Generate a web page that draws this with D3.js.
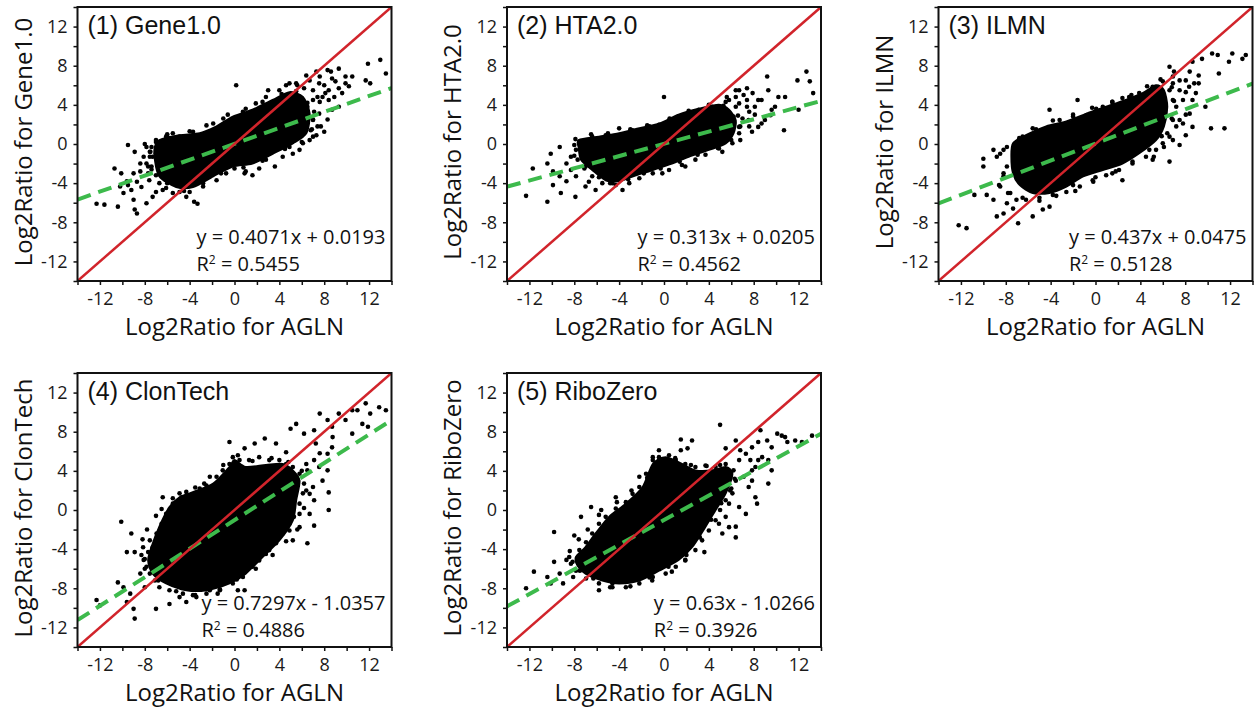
<!DOCTYPE html>
<html><head><meta charset="utf-8">
<script src="https://cdn.jsdelivr.net/npm/d3@7"></script>
<style>body{margin:0;background:#fff}</style>
</head><body><svg id="c" width="1258" height="708"></svg>
<script>
const panelTitles = ["(1) Gene1.0", "(2) HTA2.0", "(3) ILMN", "(4) ClonTech", "(5) RiboZero"];
const yTitles = ["Log2Ratio for Gene1.0", "Log2Ratio for HTA2.0", "Log2Ratio for ILMN", "Log2Ratio for ClonTech", "Log2Ratio for RiboZero"];
const xTitle = "Log2Ratio for AGLN";
const labelTicks = [-12, -8, -4, 0, 4, 8, 12];
const allTicks = [-14, -12, -10, -8, -6, -4, -2, 0, 2, 4, 6, 8, 10, 12, 14];
const axisDomain = [-14, 14];
const equations = ["y = 0.4071x + 0.0193", "y = 0.313x + 0.0205", "y = 0.437x + 0.0475", "y = 0.7297x - 1.0357", "y = 0.63x - 1.0266"];
const r2Values = ["0.5455", "0.4562", "0.5128", "0.4886", "0.3926"];
const identityLine = [[-14, -14], [14, 14]];

const fit1 = [[-14, -5.68], [14, 5.72]];
const fit2 = [[-14, -4.36], [14, 4.40]];
const fit3 = [[-14, -6.07], [14, 6.17]];
const fit4 = [[-14, -11.25], [14, 9.18]];
const fit5 = [[-14, -9.85], [14, 7.79]];

const core1 = [[-7.1,-0.3],[-6.7,0.4],[-4.9,0.9],[-3.1,1.1],[-1.6,1.8],[-0.15,2.8],[1.6,3.5],[3.4,4.5],[4.9,5.3],[6.1,4.8],[6.7,3.1],[6.4,1.1],[5.2,0.07],[3.4,-1.0],[1.6,-2.0],[-0.15,-2.3],[-1.9,-3.3],[-3.7,-4.4],[-5.2,-4.4],[-6.7,-3.3],[-7.1,-1.6]];
const pts1 = [[-9.5,-0.1],[-8.9,-0.8],[-8.0,0],[-7.85,-2.0],[-10.7,-2.5],[-10.1,-3.0],[-9.6,-3.8],[-9.9,-5.0],[-9.2,-4.7],[-9.0,-5.7],[-8.9,-6.7],[-8.7,-7.1],[-12.3,-6.1],[-11.6,-6.2],[-10.4,-6.4],[-8.4,-2.8],[-8.3,-4.4],[-7.6,-3.7],[-7.7,-2.3],[-7.3,-1.3],[-8.1,-1.3],[-7.0,-4.9],[-6.4,-4.7],[-5.5,-5.0],[-4.3,-5.4],[-3.6,-5.9],[-3.3,-6.1],[-5.8,0.6],[-7.0,0.2],
  [0.15,6.0],[3.0,5.5],[4.9,6.2],[5.6,6.0],[6.7,6.5],[7.6,6.9],[8.6,7.4],[9.3,7.7],[9.9,6.9],[10.2,5.9],[10.5,6.9],[11.7,6.5],[12.1,6.2],[11.9,8.2],[13.0,8.6],[13.5,7.2],[9.3,5.7],[9.0,6.4],[8.1,5.2],[7.6,4.3],[8.7,3.5],[8.3,2.5],[7.7,1.8],[7.3,0.9],[6.7,0.4],[5.8,-0.6],[5.2,-1.0],[3.6,-2.3],[1.6,-3.2],[0.9,-3.0],[0,-2.5],[7.0,4.5],[6.2,5.7],
  [-6.0,1.0],[-4.0,1.3],[-2.5,1.9],[-1.0,2.6],[1.0,3.6],[2.5,4.3],[4.2,5.1],[5.5,5.4],[6.5,4.2],[7.0,2.5],[6.9,1.5],[6.0,0.2],[4.5,-0.5],[2.5,-1.7],[0.8,-2.4],[-1.2,-3.0],[-2.8,-4.0],[-4.5,-4.8],[-6.0,-4.0],[-7.4,-2.6],[-7.5,-0.8],
  [-4.9,0.75],[-3.7,1.25],[-1.9,2.1],[-0.6,3.0],[0.75,3.3],[1.9,4.15],[2.8,4.8],[4.0,5.5],[4.6,6.0],[5.5,6.2],[6.4,7.0],[7.3,7.4],[8.3,7.55],[8.7,6.7],[7.55,6.2],[7.0,5.5],[7.85,4.8],[8.4,4.5],[9.3,3.8],[7.55,3.1],[7.0,2.45],[6.4,1.8],[7.0,0.75],[6.1,0.07],[4.9,-0.3],[4.3,-1.3],[2.8,-1.6],[2.2,-2.5],[1.0,-2.8],[-0.75,-3.0],[-1.6,-3.7],[-2.8,-4.35],[-4.0,-4.9],[-4.9,-4.9],[-6.1,-4.5],[-6.7,-4.0],[-7.0,-3.2],[-7.4,-2.3],[-7.55,-1.3],[-7.4,-0.3],[-7.0,0.4],[-6.1,0.75],[-5.5,1.1],[-7.0,-0.95],[-7.7,-3.0],[-8.4,-2.0],[-9.0,-3.0],[-8.7,-3.85],[-9.5,-4.2],[-10.2,-4.35],[-7.3,-5.4],[-7.85,-6.05],
  [5.9,4.5],[6.5,3.8],[7.1,3.3],[7.4,4.8],[8.0,6.0],[8.4,5.5],[8.9,4.8],[9.9,6.2],[9.6,5.2],[6.8,1.4],[7.4,1.8],[8.0,1.25],[5.5,1.1],[-7.55,-0.8],[-7.85,-0.3]];

const core2 = [[-7.6,-0.4],[-7.6,0.4],[-5.8,0.75],[-4.0,1.1],[-2.2,1.6],[-0.4,2.1],[1.3,3.0],[3.1,3.6],[4.9,4.0],[5.8,3.5],[6.4,2.4],[6.2,1.1],[5.5,0.07],[4.0,-0.6],[2.2,-1.3],[0.7,-2.0],[-1.0,-2.65],[-2.5,-3.2],[-4.0,-3.8],[-5.2,-3.7],[-6.4,-2.65],[-7.4,-1.6]];
const pts2 = [[0,4.8],[-4.0,1.6],[-8.0,-0.1],[-9.3,-0.3],[-10.1,-1.0],[-10.4,-2.0],[-9.9,-2.8],[-11.7,-2.5],[-9.3,-3.3],[-8.7,-3.8],[-9.9,-4.2],[-9.2,-5.0],[-7.9,-5.4],[-10.4,-5.9],[-12.3,-5.3],[-7.0,-4.35],[-3.7,-4.7],[-4.6,-4.0],[-0.15,-3.0],[1.9,-2.3],[5.2,-0.8],[6.7,1.1],[7.6,1.8],[8.7,2.1],[8.1,3.0],[9.6,3.5],[10.2,4.8],[9.3,5.5],[9.2,6.9],[6.7,5.5],[7.9,5.2],[8.4,4.5],[10.8,4.8],[10.7,1.4],[12.0,3.5],[11.9,6.5],[12.7,7.4],[13.0,6.4],[13.3,5.2],[7.4,5.7],[5.8,4.5],[6.4,3.8],[7.6,3.3],
  [-7.9,0.5],[-6.5,1.0],[-5.0,1.1],[-3.0,1.5],[-1.5,1.9],[0.5,2.6],[2.2,3.4],[4.0,4.0],[5.3,3.9],[6.6,2.9],[6.8,1.8],[6.0,0.4],[4.8,-0.4],[3.0,-1.1],[1.4,-1.8],[-0.3,-2.5],[-1.8,-3.0],[-3.2,-3.6],[-4.8,-4.0],[-5.8,-3.4],[-7.0,-2.3],[-8.0,-1.2],
  [-6.4,0.75],[-5.2,0.9],[-2.8,1.4],[-1.3,1.8],[-0.45,1.95],[0.75,2.45],[1.9,2.95],[3.1,3.5],[4.3,3.8],[5.5,4.3],[6.4,4.8],[7.1,5.0],[6.7,4.15],[7.4,3.8],[7.0,2.6],[7.55,2.45],[6.1,1.75],[6.8,0.4],[6.1,0.07],[4.9,-0.45],[3.7,-1.1],[2.8,-1.6],[1.6,-2.15],[0.45,-2.65],[-1.0,-3.0],[-2.2,-3.5],[-3.1,-4.0],[-4.3,-4.2],[-5.5,-4.0],[-6.4,-3.3],[-7.1,-2.5],[-7.7,-1.6],[-7.85,-0.6],[-7.55,0.25],[-8.3,-1.3],[-8.7,-2.0],[-8.3,-2.65],[-7.85,-3.3],[-6.7,-3.85],[-6.1,-4.7],
  [6.2,2.8],[6.7,1.75],[7.85,1.25],[8.4,1.75],[9.0,2.45],[9.5,2.95],[9.9,3.8],[8.1,3.8],[8.7,4.5],[7.4,4.5],[6.4,5.5],[5.6,4.8],[5.2,3.5]];

const core3 = [[-7.5,-1.3],[-7.35,0.07],[-6.2,0.9],[-4.4,1.8],[-2.6,2.3],[-0.8,3.1],[0.95,3.8],[2.7,4.5],[4.2,5.2],[5.4,6.0],[6.1,5.5],[6.4,3.8],[6.1,1.8],[5.4,0.4],[3.9,-0.95],[2.4,-2.0],[0.65,-2.65],[-1.1,-3.3],[-2.6,-4.35],[-4.1,-5.0],[-5.6,-5.0],[-6.75,-4.2],[-7.35,-3.0]];
const pts3 = [[-12.2,-8.3],[-11.5,-8.6],[-10.0,-1.5],[-10.0,-2.3],[-10.8,-5.2],[-9.7,-5.2],[-9.1,-0.6],[-9.1,-5.7],[-8.8,-7.4],[-8.2,-7.1],[-7.9,-6.05],[-7.35,-6.6],[-6.9,-8.1],[-5.6,-7.4],[-4.7,-6.7],[-4.1,-6.4],[-6.5,0.75],[-5.6,1.6],[-4.1,3.5],[-3.2,2.45],[-1.6,4.5],[0.65,3.8],[2.4,4.7],[6.6,7.9],[7.0,7.4],[8.4,7.4],[8.65,8.4],[9.5,8.7],[10.4,9.25],[10.9,9.1],[11.9,8.4],[12.2,9.25],[13.1,8.7],[13.4,9.1],[11.0,7.2],[9.2,6.2],[8.05,5.3],[8.65,4.5],[9.8,3.8],[8.05,3.0],[7.2,1.8],[6.9,0.4],[8.05,0.9],[7.5,-0.1],[10.3,1.6],[11.5,1.6],[6.6,-1.8],[5.1,-1.6],[2.4,-3.7],[1.5,-3.0],[-0.2,-3.85],[-2.0,-4.2],[6.9,6.2],[8.8,6.2],[9.2,7.0],
  [-8.5,-1.0],[-8.2,-3.0],[-8.6,-4.2],[-7.8,-5.0],[-6.5,-5.5],[-5.0,-5.8],[-3.5,-5.3],[-1.8,-4.8],[0,-3.4],[1.8,-2.8],[3.3,-1.8],[4.8,-0.6],[5.9,0.8],[6.8,2.6],[7.0,4.4],[6.8,5.8],[5.8,6.6],[4.6,5.9],[3.2,5.0],[1.5,4.3],[-0.3,3.7],[-2.0,3.0],[-3.8,2.4],[-5.3,1.5],[-6.8,0.6],[-7.9,-0.3],
  [-8.8,-1.3],[-8.2,-0.6],[-7.9,-2.3],[-8.2,-3.3],[-8.5,-4.35],[-7.6,-5.0],[-7.05,-5.7],[-6.2,-5.7],[-5.0,-5.5],[-3.8,-5.2],[-2.6,-4.9],[-1.4,-4.35],[-0.25,-3.7],[0.95,-3.2],[2.1,-2.65],[3.3,-2.0],[4.5,-1.3],[5.4,-0.6],[6.0,0.07],[6.4,1.1],[6.9,2.45],[6.9,4.5],[6.6,5.5],[6.0,6.4],[5.1,5.85],[3.9,5.2],[3.0,4.8],[1.5,4.3],[0.06,3.6],[-0.8,2.95],[-2.0,2.8],[-2.6,1.95],[-3.8,1.75],[-5.0,1.25],[-6.2,0.4],[-6.75,-0.3],[-6.5,0.4],[7.5,5.5],[7.8,4.5],[8.4,3.1],[7.5,2.45],
  [6.9,6.9],[7.5,6.5],[8.05,6.5],[8.35,5.85],[8.95,5.2],[7.2,3.8],[7.8,2.1],[8.65,1.75],[6.6,0.75],[6.1,-0.3],[5.2,-1.3]];

const core4 = [[-7.7,-5.15],[-7.4,-3.8],[-6.7,-1.7],[-5.8,0.3],[-4.9,1.3],[-4.0,1.7],[-1.9,2.7],[-0.45,4.4],[0,5.1],[1.0,4.4],[2.8,4.6],[4.3,4.7],[5.2,4.05],[5.8,3.0],[5.5,1.0],[5.2,-1.05],[4.0,-3.1],[2.5,-4.8],[1.0,-6.5],[-0.45,-7.5],[-2.5,-8.2],[-4.3,-8.2],[-6.1,-7.5],[-7.3,-6.5]];
const pts4 = [[-10.1,-1.2],[-9.2,-2.4],[-9.6,-4.3],[-8.9,-4.3],[-10.4,-7.4],[-9.9,-7.9],[-12.3,-9.2],[-12.0,-9.75],[-9.3,-8.55],[-9.0,-10.1],[-8.9,-11.1],[-9.6,-9.4],[-8.1,-5.1],[-8.4,-6.5],[-8.0,-7.9],[-7.0,-10.1],[-5.8,-9.6],[-4.9,-8.9],[-4.3,-9.4],[-3.4,-8.9],[-2.2,-8.2],[-1.5,-8.55],[0.3,-8.2],[0.9,-8.2],[-1.6,-7.2],[-6.4,1.3],[-6.5,0.1],[-4.9,1.7],[-2.7,2.7],[-0.45,6.95],[0.9,6.3],[1.8,6.8],[2.7,7.3],[3.7,6.8],[4.6,5.9],[5.0,8.3],[5.5,8.8],[6.2,7.8],[7.1,8.15],[7.6,9.85],[8.3,9.2],[8.7,8.5],[9.3,9.85],[9.9,9.2],[10.5,10.2],[10.96,10.2],[11.7,10.9],[12.1,9.85],[12.9,10.5],[13.5,10.2],[11.9,8.5],[11.4,8.8],[10.5,7.8],[8.7,6.4],[8.3,4.05],[7.85,3.0],[8.4,1.8],[8.4,0],[7.1,-1.6],[6.5,-3.4],[5.8,-0.4],[4.9,-2.1],[2.8,-4.5],[1.6,-5.5],[7.0,2.35],[6.4,4.7],[7.6,5.8],
  [-8.2,-3.0],[-7.8,-2.0],[-7.0,-0.6],[-5.5,1.2],[-3.5,2.3],[-2.2,3.4],[-1.0,4.6],[0.3,5.6],[1.6,5.0],[3.3,5.3],[4.8,4.9],[6.0,4.0],[6.4,2.0],[6.2,0.2],[5.6,-2.0],[4.6,-3.2],[3.4,-4.6],[1.9,-6.0],[0.2,-7.1],[-1.3,-8.1],[-3.5,-8.7],[-5.2,-8.3],[-6.8,-7.2],[-8.0,-6.0],[-8.3,-4.6],
  [-7.3,-3.8],[-6.95,-2.4],[-6.5,-1.4],[-6.1,-0.4],[-5.5,0.65],[-4.7,1.3],[-4.3,1.85],[-3.1,2.2],[-2.5,2.5],[-1.6,3.4],[-1.05,4.05],[-0.45,4.7],[-0.15,5.4],[0.45,5.1],[1.3,5.1],[2.2,5.4],[3.1,5.1],[4.0,5.1],[4.6,4.7],[5.2,4.4],[5.8,3.7],[6.2,2.7],[6.1,1.7],[5.8,0.65],[5.3,-0.7],[4.9,-1.4],[4.3,-2.4],[3.7,-3.4],[3.1,-4.1],[2.2,-5.15],[1.6,-5.8],[0.75,-6.85],[-0.15,-7.5],[-1.3,-8.2],[-2.5,-8.55],[-3.7,-8.7],[-4.6,-8.55],[-5.8,-8.2],[-6.7,-7.9],[-7.1,-7.2],[-7.55,-6.5],[-7.85,-5.8],[-8.0,-5.0],[-7.7,-4.3],[-8.15,-3.8],[-7.55,-3.1],
  [6.5,4.05],[7.1,5.1],[7.55,4.4],[8.3,5.75],[8.75,7.45],[7.25,6.8],[6.7,1.65],[7.1,1.0],[6.7,-0.4],[5.8,-1.75],[5.2,-3.1]];

const core5 = [[-7.7,-5.7],[-7.85,-4.8],[-7.0,-3.8],[-6.1,-2.4],[-4.9,-0.7],[-3.4,0.65],[-1.9,2.35],[-1.0,4.7],[0.15,5.4],[1.6,4.7],[2.8,4.05],[4.3,4.05],[5.5,4.4],[6.1,3.7],[5.5,1.7],[4.6,0],[3.7,-1.7],[2.5,-3.8],[1.3,-5.1],[-0.45,-6.2],[-2.2,-7.2],[-4.0,-7.5],[-5.5,-7.2],[-7.0,-6.5]];
const pts5 = [[-12.3,-8.0],[-11.6,-6.3],[-10.4,-6.85],[-10.1,-7.5],[-9.8,-5.3],[-9.3,-6.5],[-9.0,-7.5],[-8.1,-6.85],[-9.8,-2.25],[-8.7,-5.1],[-8.0,-2.6],[-7.4,-0.7],[-6.5,0.3],[-5.6,0],[-4.3,1.3],[-2.2,3.4],[-1.0,5.4],[-0.45,6.1],[1.5,6.1],[2.1,6.3],[1.5,7.2],[2.5,7.1],[5.0,8.7],[5.5,6.3],[6.4,7.1],[6.8,6.1],[7.85,6.4],[8.6,8.15],[8.4,6.95],[9.2,7.1],[9.6,6.4],[10.1,7.8],[10.5,7.6],[11.0,6.95],[11.7,7.1],[12.3,6.95],[13.2,7.6],[10.8,7.45],[8.4,5.1],[7.85,4.05],[9.6,4.05],[9.3,2.7],[7.55,2.35],[8.15,1.3],[8.3,0.65],[7.3,-0.4],[6.7,0.3],[6.4,-1.7],[6.4,-2.8],[5.2,-2.4],[4.9,-1.4],[3.6,-4.3],[1.9,-5.1],[0.7,-6.3],[-1.0,-6.85],[-2.4,-6.5],[-5.8,-8.2],[-4.6,-7.5],[-3.4,-7.35],
  [-8.4,-4.2],[-7.6,-3.0],[-6.8,-2.0],[-5.8,-0.5],[-4.2,0.8],[-2.9,2.0],[-1.5,3.3],[-0.3,5.2],[1.0,5.3],[2.4,4.6],[3.8,4.5],[5.0,4.6],[6.3,3.2],[6.0,2.2],[5.1,0.7],[4.2,-1.0],[3.2,-2.8],[2.0,-4.6],[0.4,-5.8],[-1.3,-6.9],[-3.0,-7.8],[-4.8,-7.9],[-6.3,-7.0],[-7.5,-6.2],[-8.3,-5.5],
  [-7.55,-4.1],[-6.95,-3.3],[-6.4,-2.4],[-5.8,-1.4],[-5.2,-0.7],[-4.3,0.15],[-3.4,0.8],[-2.8,1.65],[-2.2,2.35],[-1.6,3.7],[-1.0,5.1],[-0.45,5.4],[0.45,5.6],[1.05,5.1],[1.9,4.7],[2.8,4.4],[3.7,4.55],[4.6,4.4],[5.5,4.7],[6.2,4.05],[6.4,3.0],[5.9,2.0],[5.5,1.0],[5.0,0],[4.6,-1.05],[4.0,-2.1],[3.4,-3.1],[2.8,-4.1],[1.9,-5.15],[1.05,-5.8],[0.15,-6.5],[-1.05,-7.2],[-2.2,-7.5],[-3.4,-7.9],[-4.6,-7.9],[-5.8,-7.5],[-6.95,-7.0],[-7.85,-6.2],[-8.15,-5.3],[-8.45,-4.8],
  [6.7,5.1],[7.3,5.75],[7.7,5.1],[8.15,4.4],[8.75,5.4],[9.3,5.1],[7.1,3.4],[7.85,3.0],[6.1,1.7],[5.8,0.65],[5.5,-0.7],[5.8,-1.75]];

const cores = [core1, core2, core3, core4, core5];
const points = [pts1, pts2, pts3, pts4, pts5];
const fits = [fit1, fit2, fit3, fit4, fit5];

const layout = [
  {left: 77.5, top: 7, w: 314, h: 274},
  {left: 507, top: 7, w: 314, h: 274},
  {left: 938.5, top: 7, w: 314, h: 274},
  {left: 77.5, top: 373, w: 314, h: 274},
  {left: 507, top: 373, w: 314, h: 274}
];

const svg = d3.select("#c");
const tickFont = "'Open Sans', 'Noto Sans', sans-serif";
const titleFont = "'Liberation Sans', Arial, sans-serif";

layout.forEach((L, i) => {
  const x = d3.scaleLinear().domain(axisDomain).range([L.left, L.left + L.w]);
  const y = d3.scaleLinear().domain(axisDomain).range([L.top + L.h, L.top]);
  const g = svg.append("g");
  const clipId = "clip" + i;
  g.append("clipPath").attr("id", clipId).append("rect")
    .attr("x", L.left).attr("y", L.top).attr("width", L.w).attr("height", L.h);
  const inner = g.append("g").attr("clip-path", `url(#${clipId})`);

  inner.append("path").datum(cores[i])
    .attr("d", d3.line().x(d => x(d[0])).y(d => y(d[1])).curve(d3.curveCardinalClosed.tension(0.2)))
    .attr("fill", "#000").attr("stroke", "#000").attr("stroke-width", 2);

  inner.selectAll("circle").data(points[i]).join("circle")
    .attr("cx", d => x(d[0])).attr("cy", d => y(d[1])).attr("r", 2.3).attr("fill", "#000");

  const ln = d3.line().x(d => x(d[0])).y(d => y(d[1]));
  inner.append("path").datum(fits[i]).attr("d", ln)
    .attr("stroke", "#3dba4c").attr("stroke-width", 4).attr("fill", "none")
    .attr("stroke-dasharray", "14,8");
  inner.append("path").datum(identityLine).attr("d", ln)
    .attr("stroke", "#d1242b").attr("stroke-width", 2.5).attr("fill", "none");

  // axes
  const fmt = d => labelTicks.includes(d) ? String(d) : "";
  const xa = g.append("g").attr("transform", `translate(0,${L.top + L.h})`)
    .call(d3.axisBottom(x).tickValues(allTicks).tickSize(4).tickPadding(7).tickFormat(fmt));
  const ya = g.append("g").attr("transform", `translate(${L.left},0)`)
    .call(d3.axisLeft(y).tickValues(allTicks).tickSize(4).tickPadding(6).tickFormat(fmt));
  [xa, ya].forEach(a => {
    a.select(".domain").remove();
    a.selectAll("line").attr("stroke", "#111").attr("stroke-width", 1.5);
    a.selectAll("text").filter(function () { return this.textContent === ""; }).remove();
    a.selectAll("text").attr("font-family", tickFont).attr("font-size", 18).attr("fill", "#1a1a1a");
  });

  g.append("rect").attr("x", L.left).attr("y", L.top).attr("width", L.w).attr("height", L.h)
    .attr("fill", "none").attr("stroke", "#111").attr("stroke-width", 2);

  // titles
  g.append("text").attr("x", L.left + 10).attr("y", L.top + 27)
    .attr("font-family", titleFont).attr("font-size", 25).attr("fill", "#111")
    .text(panelTitles[i]);

  g.append("text").attr("x", L.left + L.w / 2).attr("y", L.top + L.h + 54)
    .attr("text-anchor", "middle").attr("font-family", tickFont).attr("font-size", 24).attr("fill", "#111")
    .text(xTitle);

  g.append("text").attr("transform", `translate(${L.left - 46},${L.top + L.h / 2 - 2}) rotate(-90)`)
    .attr("text-anchor", "middle").attr("font-family", tickFont).attr("font-size", 24).attr("fill", "#111")
    .text(yTitles[i]);

  const eq = g.append("text").attr("x", L.left + L.w - 6).attr("y", L.top + L.h - 37)
    .attr("text-anchor", "end").attr("font-family", tickFont).attr("font-size", 20).attr("fill", "#111")
    .text(equations[i]);
  const bx = eq.node().getBBox().x;
  const r2 = g.append("text").attr("x", bx).attr("y", L.top + L.h - 10)
    .attr("font-family", tickFont).attr("font-size", 20).attr("fill", "#111");
  r2.append("tspan").text("R");
  r2.append("tspan").attr("dy", -7).attr("font-size", 12).text("2");
  r2.append("tspan").attr("dy", 7).text(" = " + r2Values[i]);
});
</script></body></html>
